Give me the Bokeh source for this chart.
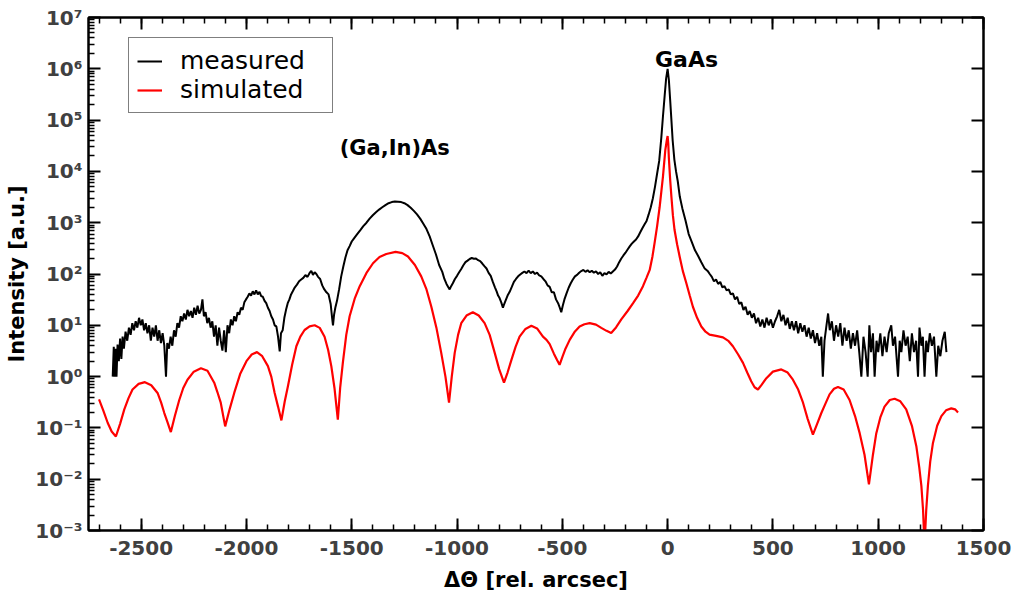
from bokeh.plotting import figure
from bokeh.models import (FixedTicker, LinearAxis, LogAxis, CustomJSTickFormatter,
                          Label, Legend, LegendItem)
from bokeh.embed import file_html
from bokeh.resources import INLINE

# ---------------- data ----------------
meas_x = [-2635, -2630, -2626, -2621, -2617, -2612, -2606, -2600, -2594, -2588, -2582, -2574,
          -2566, -2558, -2550, -2542, -2534, -2526, -2518, -2510, -2502, -2494, -2486, -2478,
          -2470, -2462, -2454, -2446, -2438, -2430, -2422, -2414, -2406, -2398, -2390, -2382,
          -2376, -2368, -2360, -2352, -2344, -2336, -2328, -2320, -2312, -2304, -2296, -2288,
          -2280, -2272, -2264, -2256, -2248, -2240, -2232, -2224, -2216, -2209, -2202, -2194,
          -2186, -2178, -2170, -2162, -2154, -2146, -2138, -2130, -2122, -2114, -2106, -2098,
          -2090, -2082, -2074, -2066, -2058, -2050, -2042, -2034, -2026, -2018, -2010, -2002,
          -1994, -1986, -1978, -1970, -1962, -1954, -1946, -1938, -1930, -1922, -1914, -1906,
          -1898, -1890, -1882, -1874, -1866, -1858, -1850, -1842, -1836, -1828, -1820, -1812,
          -1804, -1796, -1788, -1780, -1770, -1760, -1750, -1740, -1730, -1720, -1710, -1700,
          -1692, -1684, -1676, -1668, -1660, -1650, -1640, -1630, -1620, -1610, -1600, -1594,
          -1589, -1584, -1578, -1570, -1560, -1550, -1540, -1530, -1520, -1510, -1500, -1490,
          -1475, -1460, -1445, -1430, -1415, -1400, -1385, -1370, -1355, -1340, -1325, -1310,
          -1295, -1280, -1265, -1250, -1235, -1220, -1205, -1190, -1175, -1160, -1145, -1130,
          -1115, -1100, -1085, -1070, -1060, -1050, -1042, -1035, -1028, -1020, -1010, -1000,
          -990, -980, -970, -960, -950, -940, -930, -920, -910, -900, -890, -880,
          -870, -860, -850, -840, -830, -820, -812, -805, -798, -790, -782, -776,
          -770, -760, -750, -740, -730, -720, -710, -700, -690, -680, -670, -660,
          -650, -640, -630, -620, -610, -600, -590, -580, -570, -560, -550, -540,
          -530, -520, -512, -505, -498, -490, -480, -470, -460, -450, -440, -430,
          -420, -410, -400, -390, -380, -370, -360, -350, -340, -330, -320, -310,
          -300, -290, -280, -270, -260, -250, -240, -230, -220, -210, -200, -190,
          -180, -170, -160, -150, -140, -130, -120, -110, -100, -90, -80, -70,
          -60, -50, -40, -30, -22, -14, -7, 0, 6, 12, 18, 24,
          32, 40, 48, 58, 70, 85, 100, 115, 130, 145, 160, 175,
          190, 200, 210, 220, 230, 240, 250, 260, 270, 280, 290, 300,
          310, 320, 330, 340, 350, 360, 370, 380, 390, 400, 410, 420,
          430, 440, 450, 460, 470, 480, 490, 500, 510, 520, 530, 540,
          550, 560, 570, 580, 590, 600, 610, 620, 630, 640, 650, 660,
          670, 680, 690, 700, 710, 720, 730, 737, 745, 753, 762, 770,
          780, 790, 800, 810, 820, 830, 840, 850, 860, 870, 880, 890,
          900, 910, 920, 930, 940, 950, 958, 966, 975, 983, 992, 1000,
          1010, 1020, 1030, 1040, 1050, 1062, 1070, 1080, 1094, 1102, 1110, 1120,
          1130, 1140, 1150, 1160, 1170, 1180, 1189, 1196, 1205, 1212, 1220, 1228,
          1236, 1245, 1255, 1265, 1276, 1285, 1295, 1305, 1316, 1324]
meas_y = [1.0, 3.8, 1.0, 3.5, 1.0, 4.2, 2.0, 5.5, 2.2, 6.0, 3.5, 7.5,
          5.0, 9.0, 6.5, 11, 8, 12, 9, 14, 10, 13, 8, 11,
          7, 10, 5, 9, 6, 10, 5, 8, 4.5, 7, 4, 1.0,
          4.5, 3.5, 6, 4, 8, 6, 11, 9, 15, 12, 17, 13,
          20, 15, 19, 14, 22, 16, 24, 17, 20, 32, 15, 18,
          11, 14, 9, 12, 6, 10, 4, 9, 5, 3.2, 8, 3.0,
          10, 7, 13, 10, 15, 12, 18, 16, 22, 20, 28, 32,
          36, 42, 38, 46, 40, 48, 40, 45, 37, 36, 30, 27,
          22, 19, 15, 13, 10, 9.5, 6, 3.1, 7, 8, 14, 20,
          27, 32, 40, 46, 55, 62, 72, 78, 84, 95, 88, 105,
          115, 96, 108, 100, 88, 80, 60, 50, 44, 40, 26, 15,
          10, 16, 22, 30, 50, 90, 140, 210, 290, 350, 430, 490,
          590, 710, 860, 1000, 1200, 1400, 1600, 1800, 2000, 2200, 2400, 2520,
          2580, 2560, 2520, 2400, 2200, 1950, 1700, 1450, 1200, 950, 750, 540,
          360, 240, 150, 110, 80, 64, 56, 50, 58, 66, 80, 92,
          108, 125, 148, 170, 182, 196, 205, 198, 200, 186, 178, 160,
          142, 128, 105, 92, 70, 55, 46, 38, 34, 28, 22, 26,
          30, 38, 45, 56, 70, 80, 90, 98, 105, 112, 104, 116,
          104, 112, 100, 106, 94, 90, 80, 72, 60, 56, 44, 44,
          32, 27, 22, 18, 24, 32, 42, 54, 66, 78, 90, 96,
          106, 114, 120, 110, 118, 108, 116, 106, 112, 100, 108, 92,
          104, 98, 110, 102, 112, 122, 140, 170, 200, 230, 260, 300,
          345, 390, 430, 470, 540, 650, 780, 920, 1080, 1450, 2000, 3000,
          5000, 9000, 16000, 45000, 120000, 300000, 650000, 1000000, 600000, 250000, 100000, 40000,
          17000, 10000, 6500, 3200, 1900, 1100, 600, 420, 290, 225, 170, 130,
          115, 100, 88, 72, 78, 64, 70, 55, 58, 48, 50, 40,
          42, 32, 36, 26, 28, 20, 23, 16, 19, 14, 17, 11,
          14, 9.5, 13, 9, 14, 10, 13, 9, 12, 15, 20, 12,
          16, 10, 14, 8.5, 12, 8, 12, 7, 11, 7.5, 10, 6,
          9, 5.5, 8, 4.5, 7, 4, 6, 1.0, 5, 9, 17, 8,
          12, 5, 10, 6, 11, 4, 9, 5, 8, 3.5, 7, 4,
          8, 3, 1.0, 6, 3, 1.0, 10, 3, 7, 1.0, 5, 3,
          7, 2.5, 6, 3, 7, 10, 4, 6, 1.0, 5, 3, 8,
          4, 6, 2, 7, 3, 5, 1.0, 9, 4, 6, 1.0, 5,
          3, 7, 4, 6, 1.0, 4, 2.5, 5, 7.5, 3]

sim_x = [-2700, -2680, -2659, -2640, -2620, -2600, -2580, -2560, -2541, -2512, -2482, -2452,
         -2422, -2405, -2390, -2375, -2359, -2340, -2319, -2300, -2280, -2250, -2216, -2185,
         -2153, -2138, -2122, -2101, -2080, -2058, -2030, -2000, -1975, -1950, -1925, -1898,
         -1882, -1866, -1850, -1834, -1818, -1803, -1783, -1763, -1744, -1724, -1700, -1676,
         -1652, -1629, -1612, -1597, -1582, -1566, -1555, -1542, -1526, -1510, -1486, -1462,
         -1430, -1399, -1368, -1336, -1292, -1260, -1233, -1200, -1170, -1145, -1122, -1098,
         -1075, -1055, -1038, -1025, -1011, -995, -980, -955, -925, -897, -869, -845,
         -821, -800, -777, -760, -742, -722, -703, -675, -647, -620, -592, -575,
         -560, -540, -525, -513, -500, -485, -465, -440, -418, -395, -370, -340,
         -315, -290, -268, -245, -220, -190, -164, -140, -117, -100, -85, -72,
         -62, -50, -38, -30, -22, -11, -4, 0, 3, 6, 12, 18,
         25, 33, 45, 57, 72, 89, 105, 120, 140, 160, 180, 199,
         230, 263, 290, 310, 335, 358, 378, 397, 413, 429, 447, 469,
         500, 540, 570, 595, 620, 643, 665, 690, 710, 730, 750, 769,
         790, 809, 836, 864, 890, 912, 935, 956, 975, 991, 1010, 1030,
         1055, 1078, 1105, 1133, 1160, 1181, 1195, 1205, 1213, 1220, 1228, 1236,
         1247, 1260, 1280, 1300, 1322, 1347, 1365, 1379]
sim_y = [0.36, 0.22, 0.126, 0.085, 0.068, 0.12, 0.23, 0.38, 0.56, 0.72, 0.78, 0.68,
         0.48, 0.31, 0.195, 0.13, 0.083, 0.17, 0.35, 0.60, 0.87, 1.25, 1.45, 1.3,
         0.76, 0.5, 0.31, 0.107, 0.23, 0.48, 1.12, 2.0, 2.7, 3.0, 2.5, 1.6,
         1.0, 0.48, 0.26, 0.14, 0.33, 0.65, 1.7, 3.9, 6.0, 8.1, 9.5, 10.0,
         8.9, 6.0, 3.3, 1.6, 0.6, 0.145, 0.6, 1.9, 6.5, 15, 33, 58,
         105, 162, 215, 245, 270, 255, 220, 150, 90, 50, 23, 9,
         2.9, 1.0, 0.31, 1.0, 2.9, 6.5, 11, 15.5, 18, 15.5, 11, 6.5,
         2.9, 1.4, 0.76, 1.2, 2.1, 3.8, 6.0, 8.5, 9.8, 8.7, 6.0, 5.2,
         4.3, 2.8, 2.1, 1.7, 2.4, 3.5, 5.2, 7.6, 9.5, 10.5, 11, 10.3,
         8.9, 7.8, 7.1, 9.1, 13, 19, 27, 38, 58, 85, 120, 220,
         400, 850, 2000, 4000, 8000, 26000, 40000, 49000, 35000, 18000, 7000, 3200,
         1400, 720, 380, 220, 115, 66, 38, 23, 14, 9.5, 7.5, 6.6,
         6.2, 5.8, 4.9, 3.9, 2.7, 1.85, 1.2, 0.81, 0.62, 0.56, 0.7, 0.93,
         1.25, 1.38, 1.2, 0.87, 0.56, 0.31, 0.15, 0.074, 0.12, 0.195, 0.3, 0.45,
         0.58, 0.63, 0.56, 0.35, 0.17, 0.079, 0.03, 0.0079, 0.03, 0.079, 0.16, 0.26,
         0.35, 0.37, 0.33, 0.23, 0.11, 0.044, 0.017, 0.0074, 0.0025, 0.0005, 0.0025, 0.0074,
         0.022, 0.051, 0.11, 0.17, 0.22, 0.24, 0.23, 0.20]

series_names = ["measured", "simulated"]
series_colors = ["black", "red"]

x_major = [-2500, -2000, -1500, -1000, -500, 0, 500, 1000, 1500]
x_labels = ["-2500", "-2000", "-1500", "-1000", "-500", "0", "500", "1000", "1500"]
y_exponents = [-3, -2, -1, 0, 1, 2, 3, 4, 5, 6, 7]
y_labels = ["10⁻³", "10⁻²", "10⁻¹", "10⁰", "10¹", "10²", "10³", "10⁴", "10⁵", "10⁶", "10⁷"]

peak_texts = ["(Ga,In)As", "GaAs"]
peak_x = [-1296, 90]
peak_y = [2.9e4, 1.55e6]

x_title = "ΔΘ [rel. arcsec]"
y_title = "Intensity [a.u.]"

# ---------------- figure ----------------
FONT = "DejaVu Sans"
TICK_COLOR = "#404040"

p = figure(width=1014, height=594, x_range=(-2750, 1500), y_range=(1e-3, 1e7),
           y_axis_type="log", output_backend="svg", toolbar_location=None,
           min_border_left=88, min_border_right=31, min_border_top=17, min_border_bottom=63)
p.xgrid.visible = False
p.ygrid.visible = False
p.outline_line_color = "black"
p.outline_line_width = 2
p.background_fill_color = "white"
p.border_fill_color = "white"

r_meas = p.line(meas_x, meas_y, line_color=series_colors[0], line_width=2)
r_sim = p.line(sim_x, sim_y, line_color=series_colors[1], line_width=2.2)

x_minor = list(range(-2700, 1501, 100))
y_major = [10.0 ** e for e in y_exponents]
y_minor = [m * 10.0 ** e for e in y_exponents[:-1] for m in range(2, 10)]

xfmt = CustomJSTickFormatter(args=dict(vals=x_major, labels=x_labels), code="""
const i = vals.findIndex(v => Math.abs(v - tick) < 1e-6);
return i >= 0 ? labels[i] : "";
""")
yfmt = CustomJSTickFormatter(args=dict(exps=y_exponents, labels=y_labels), code="""
const e = Math.round(Math.log10(tick));
const i = exps.indexOf(e);
return i >= 0 ? labels[i] : "";
""")

def style_axis(ax, labels=True, minor=True):
    ax.axis_line_color = "black"
    ax.axis_line_width = 2
    ax.major_tick_in = 12
    ax.major_tick_out = 0
    ax.major_tick_line_width = 2
    ax.major_tick_line_color = "black"
    if minor:
        ax.minor_tick_in = 6
        ax.minor_tick_out = 0
        ax.minor_tick_line_width = 1.5
        ax.minor_tick_line_color = "black"
    else:
        ax.minor_tick_line_color = None
    if labels:
        ax.major_label_text_font = FONT
        ax.major_label_text_font_style = "bold"
        ax.major_label_text_font_size = "20px"
        ax.major_label_text_color = TICK_COLOR
        ax.axis_label_text_font = FONT
        ax.axis_label_text_font_style = "bold"
        ax.axis_label_text_font_size = "21px"
        ax.axis_label_text_color = "black"
    else:
        ax.major_label_text_font_size = "0px"
        ax.major_label_text_alpha = 0
        ax.major_label_standoff = 0

xa = p.xaxis[0]
xa.ticker = FixedTicker(ticks=x_major, minor_ticks=x_minor)
xa.formatter = xfmt
xa.axis_label = x_title
style_axis(xa)
xa.major_label_standoff = 10
xa.axis_label_standoff = 10

ya = p.yaxis[0]
ya.ticker = FixedTicker(ticks=y_major, minor_ticks=y_minor)
ya.formatter = yfmt
ya.axis_label = y_title
style_axis(ya)
ya.major_label_standoff = 6
ya.axis_label_standoff = 3

top = LinearAxis(ticker=FixedTicker(ticks=x_major, minor_ticks=x_minor))
style_axis(top, labels=False)
p.add_layout(top, "above")

right = LogAxis(ticker=FixedTicker(ticks=y_major, minor_ticks=[]))
style_axis(right, labels=False, minor=False)
p.add_layout(right, "right")

for t, xx, yy, fs in zip(peak_texts, peak_x, peak_y, ["21px", "22px"]):
    p.add_layout(Label(x=xx, y=yy, text=t, text_align="center", text_baseline="alphabetic",
                       text_font=FONT, text_font_style="bold", text_font_size=fs,
                       text_color="black"))

legend = Legend(items=[LegendItem(label=series_names[0], renderers=[r_meas]),
                       LegendItem(label=series_names[1], renderers=[r_sim])],
                location=(40, 417))
legend.border_line_color = "black"
legend.border_line_width = 1
legend.background_fill_alpha = 1
legend.padding = 8
legend.spacing = 0
legend.margin = 0
legend.glyph_width = 25
legend.glyph_height = 26
legend.label_height = 26
legend.label_width = 144
legend.label_standoff = 18
legend.label_text_font = FONT
legend.label_text_font_size = "25px"
legend.label_text_color = "black"
p.add_layout(legend, "center")

open("out.html", "w").write(file_html(p, INLINE))
